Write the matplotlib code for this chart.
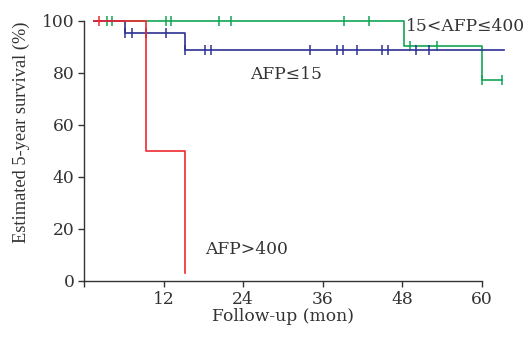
import matplotlib
matplotlib.use("Agg")
import matplotlib.pyplot as plt

# Kaplan-Meier curves (months, survival %)
low_t = [1.5, 6.25, 15.3, 63.3]
low_s = [100, 95.4, 88.6, 88.6]
low_cens_t = [6.25, 7.3, 9.3, 12.3, 15.3, 18.2, 19.1, 34.1, 38.2, 39.0, 41.1,
              44.9, 45.9, 50.1, 52.0]
low_cens_s = [95.4] * 4 + [88.6] * 11

mid_t = [1.5, 48.3, 60.0, 63.0]
mid_s = [100, 90.4, 77.3, 77.3]
mid_cens_t = [3.4, 4.25, 12.3, 13.1, 20.3, 22.2, 39.2, 43.0, 49.1, 53.2, 60.0, 63.0]
mid_cens_s = [100] * 8 + [90.4] * 2 + [77.3] * 2

high_t = [1.5, 9.3, 15.3]
high_s = [100, 50, 3]
high_cens_t = [2.2]
high_cens_s = [100]

xticks = [0, 12, 24, 36, 48, 60]
xticklabels = ["", "12", "24", "36", "48", "60"]
yticks = [0, 20, 40, 60, 80, 100]

c_low = "#2e3192"
c_mid = "#13a555"
c_high = "#ee2a30"

plt.rcParams["font.family"] = ["DejaVu Serif"]
fs = 12.3
fig = plt.figure(figsize=(5.26, 3.37), dpi=100)
ax = fig.add_axes([0.1597, 0.1662, 0.9163 - 0.1597, 0.9386 - 0.1662])

for t, s, ct, cs, c in [(mid_t, mid_s, mid_cens_t, mid_cens_s, c_mid),
                        (low_t, low_s, low_cens_t, low_cens_s, c_low),
                        (high_t, high_s, high_cens_t, high_cens_s, c_high)]:
    ax.step(t, s, where="post", color=c, lw=1.2, clip_on=False)
    ax.plot(ct, cs, ls="none", marker="|", ms=7, mew=1.1, color=c, clip_on=False)

ax.set_xlim(0, 60)
ax.set_ylim(0, 100)
ax.set_xticks(xticks)
ax.set_xticklabels(xticklabels)
ax.set_yticks(yticks)
ax.spines["top"].set_visible(False)
ax.spines["right"].set_visible(False)
for sp in ["left", "bottom"]:
    ax.spines[sp].set_linewidth(1.0)
    ax.spines[sp].set_color("#333333")
ax.tick_params(direction="out", length=4, width=1.0, colors="#333333",
               labelsize=fs, labelcolor="#333333", pad=3)
ax.set_xlabel("Follow-up (mon)", fontsize=fs, color="#333333", labelpad=0)
ax.set_ylabel("Estimated 5-year survival (%)", fontsize=13.2, color="#333333",
              family="Liberation Serif")
ax.yaxis.set_label_coords(-0.135, 0.57)

ax.text(25.1, 79.2, "AFP≤15", fontsize=fs, color="#333333", va="center")
ax.text(48.6, 97.7, "15<AFP≤400", fontsize=fs, color="#333333", va="center")
ax.text(18.2, 12, "AFP>400", fontsize=fs, color="#333333", va="center")

fig.savefig("out.png", dpi=100)
